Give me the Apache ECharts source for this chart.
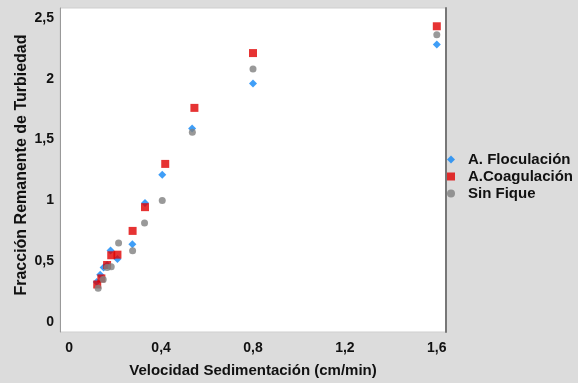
<!DOCTYPE html>
<html>
<head>
<meta charset="utf-8">
<script src="https://cdn.jsdelivr.net/npm/echarts@6/dist/echarts.min.js"></script>
<style>
html, body { margin:0; padding:0; background:#dcdcdc; }
#chart { width:578px; height:383px; }
</style>
</head>
<body>
<div id="chart"></div>
<script>
// datos
var xTicks = [0, 0.4, 0.8, 1.2, 1.6];
var yTicks = [0, 0.5, 1, 1.5, 2, 2.5];

var floculacion = [
    [0.12, 0.33], [0.135, 0.39], [0.15, 0.45], [0.165, 0.47], [0.18, 0.59], [0.21, 0.52],
    [0.275, 0.64], [0.33, 0.98], [0.405, 1.21], [0.535, 1.59], [0.8, 1.96], [1.6, 2.28]
];
var coagulacion = [
    [0.122, 0.31], [0.14, 0.36], [0.165, 0.47], [0.183, 0.55], [0.21, 0.555],
    [0.276, 0.75], [0.33, 0.945], [0.418, 1.30], [0.545, 1.76], [0.8, 2.21], [1.6, 2.43]
];
var sinFique = [
    [0.126, 0.28], [0.148, 0.35], [0.165, 0.45], [0.183, 0.456], [0.215, 0.65],
    [0.276, 0.587], [0.328, 0.815], [0.405, 1.0], [0.536, 1.56], [0.8, 2.08], [1.6, 2.36]
];

var fmt = function (v) { return String(v).replace('.', ','); };
var font = 'Liberation Sans';

var option = {
    backgroundColor:'#dcdcdc',
    animation:false,
    grid:{
        left:60, right:132, top:8, bottom:49,
        show:true,
        backgroundColor:'#ffffff',
        borderColor:'#cfcfcf',
        borderWidth:1
    },
    legend:{
        orient:'vertical',
        left:442, top:147,
        itemWidth:8, itemHeight:8, itemGap:2,
        textStyle:{ color:'#111', fontSize:15, fontWeight:'bold', fontFamily:font, padding:[0,0,0,8] },
        data:['A. Floculación','A.Coagulación','Sin Fique']
    },
    xAxis:{
        type:'value',
        min:-0.04, max:1.64,
        name:'Velocidad Sedimentación (cm/min)',
        nameLocation:'middle',
        nameGap:31,
        nameTextStyle:{ color:'#111', fontSize:15, fontWeight:'bold', fontFamily:font },
        splitLine:{ show:false },
        axisLine:{ show:false },
        axisTick:{ show:false },
        axisLabel:{
            customValues:xTicks,
            margin:9,
            formatter:fmt,
            color:'#111', fontSize:14, fontWeight:'bold', fontFamily:font
        }
    },
    yAxis:[{
        type:'value',
        min:-0.08, max:2.58,
        name:'Fracción Remanente de Turbiedad',
        nameLocation:'middle',
        nameGap:30,
        nameMoveOverlap:false,
        nameTextStyle:{ color:'#111', fontSize:16, fontWeight:'bold', fontFamily:font, padding:[0,0,0,10] },
        splitLine:{ show:false },
        axisLine:{ show:true, onZero:false, lineStyle:{ color:'#999', width:1 } },
        axisTick:{ show:false },
        axisLabel:{
            customValues:yTicks,
            margin:6,
            formatter:fmt,
            color:'#111', fontSize:14, fontWeight:'bold', fontFamily:font
        }
    }, {
        type:'value',
        position:'right',
        min:-0.08, max:2.58,
        splitLine:{ show:false },
        axisLine:{ show:true, onZero:false, lineStyle:{ color:'#777', width:2 } },
        axisTick:{ show:false },
        axisLabel:{ show:false }
    }],
    series:[{
        name:'A. Floculación',
        type:'scatter',
        symbol:'diamond',
        symbolSize:8,
        itemStyle:{ color:'#0f86f5' },
        data:floculacion
    }, {
        name:'A.Coagulación',
        type:'scatter',
        symbol:'rect',
        symbolSize:8,
        itemStyle:{ color:'#e00000' },
        data:coagulacion
    }, {
        name:'Sin Fique',
        type:'scatter',
        symbol:'circle',
        symbolSize:7,
        itemStyle:{ color:'#808080' },
        data:sinFique
    }]
};
var chart = echarts.init(document.getElementById('chart'));
chart.setOption(option);
</script>
</body>
</html>
